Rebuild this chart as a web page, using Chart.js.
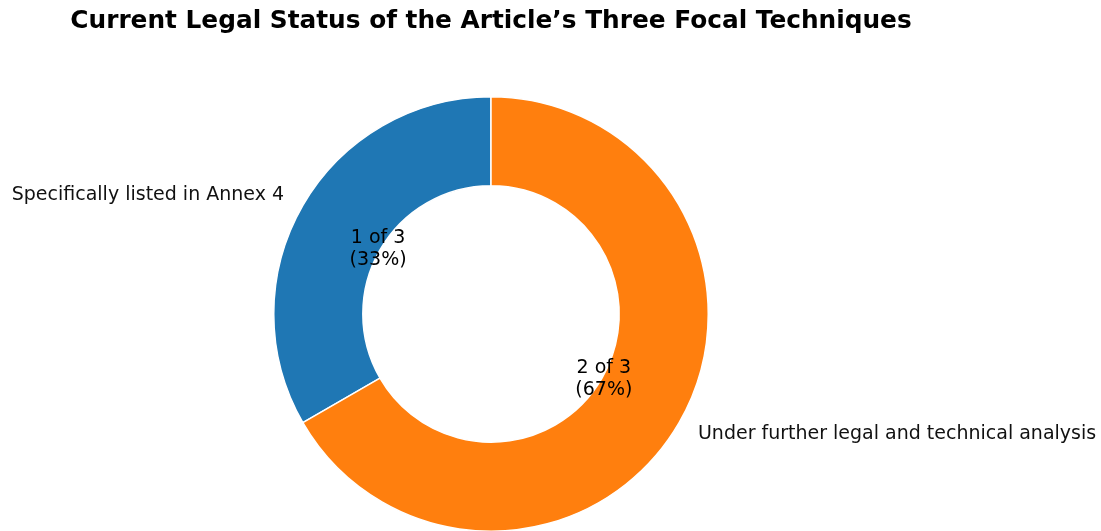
<!DOCTYPE html>
<html>
<head>
<meta charset="utf-8">
<script src="https://cdn.jsdelivr.net/npm/chart.js@4.4.1/dist/chart.umd.min.js"></script>
<style>
  html, body { margin: 0; padding: 0; background: #fff; overflow: hidden; }
  #wrap { position: relative; width: 1101px; height: 540px; }
</style>
</head>
<body>
<div id="wrap"><canvas id="chart"></canvas></div>
<script>
const title = "Current Legal Status of the Article\u2019s Three Focal Techniques";
const categories = ["Specifically listed in Annex 4", "Under further legal and technical analysis"];
const counts = [1, 2];
const total = 3;
const colors = ["#1f77b4", "#ff7f0e"];

const FONT = "'DejaVu Sans', sans-serif";

// draws title, outer labels and the "n of 3 (pct)" labels like matplotlib's pie
const pieText = {
  id: "pieText",
  afterDraw(chart) {
    const ctx = chart.ctx;
    const meta = chart.getDatasetMeta(0);
    ctx.save();
    ctx.fillStyle = "#000";
    ctx.font = "bold 24.8px " + FONT;
    ctx.textAlign = "center";
    ctx.textBaseline = "middle";
    ctx.fillText(title, 491, 22);

    meta.data.forEach((arc, i) => {
      const p = arc.getProps(["x", "y", "startAngle", "endAngle", "outerRadius"], true);
      const mid = (p.startAngle + p.endAngle) / 2;
      const r = p.outerRadius;
      const cos = Math.cos(mid), sin = Math.sin(mid);

      ctx.fillStyle = "#111";
      ctx.font = "19px " + FONT;
      ctx.textBaseline = "middle";
      ctx.textAlign = cos < 0 ? "right" : "left";
      ctx.fillText(categories[i], p.x + 1.1 * r * cos, p.y + 1.1 * r * sin + 1);

      const pct = Math.round(counts[i] / total * 100);
      ctx.textAlign = "center";
      ctx.fillStyle = "#000";
      const cx = p.x + 0.6 * r * cos, cy = p.y + 0.6 * r * sin;
      ctx.fillText(counts[i] + " of " + total, cx, cy - 11);
      ctx.fillText("(" + pct + "%)", cx, cy + 11);
    });
    ctx.restore();
  }
};

new Chart(document.getElementById("chart"), {
  type: "doughnut",
  data: {
    labels: categories,
    datasets: [{
      data: counts,
      backgroundColor: colors,
      borderColor: "#ffffff",
      borderWidth: 1.5,
      borderAlign: "center"
    }]
  },
  options: {
    responsive: true,
    maintainAspectRatio: false,
    animation: false,
    rotation: -120,
    cutout: "59%",
    layout: { padding: { top: 95, bottom: 7, left: 273, right: 392 } },
    plugins: {
      legend: { display: false },
      tooltip: { enabled: false }
    }
  },
  plugins: [pieText]
});
</script>
</body>
</html>
